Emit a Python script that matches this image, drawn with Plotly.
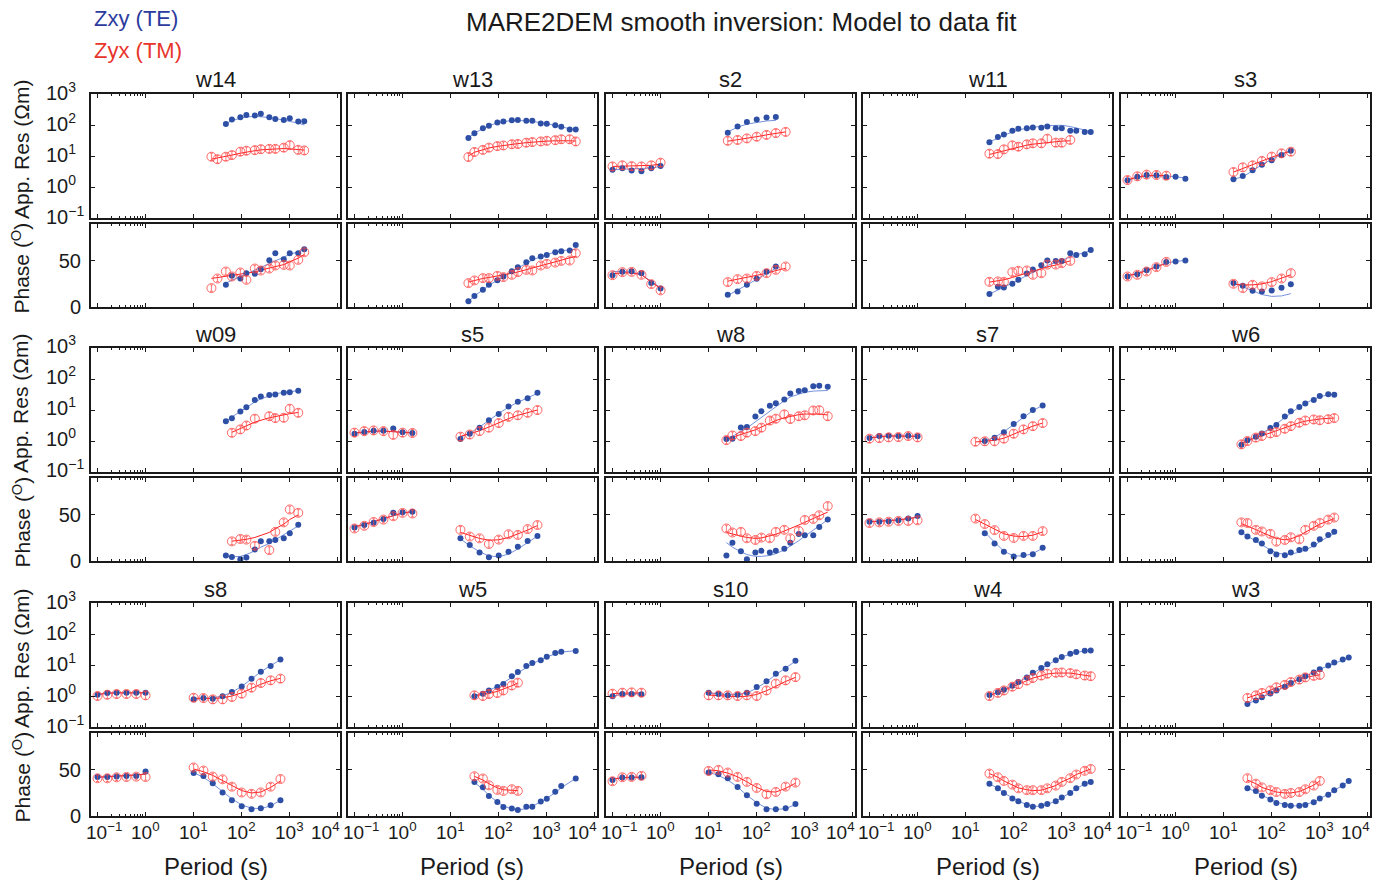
import math
import plotly.graph_objects as go

# ---------------------------------------------------------------- periods (s)
W_T = [24, 32, 48, 64, 96, 128, 192, 256, 384, 512, 768, 1024, 1536, 2048, 3072, 4096]
S_SHORT = [0.1024, 0.16384, 0.256, 0.4096, 0.65536, 1.024, 1.6384]
S_LONG = [10.24, 16.384, 25.6, 40.96, 64, 102.4, 163.84, 256, 409.6, 655.36]
GAP = [None]

STATION_ORDER = ["w14", "w13", "s2", "w11", "s3",
                 "w09", "s5", "w8", "s7", "w6",
                 "s8", "w5", "s10", "w4", "w3"]

# ---------------------------------------------------------------- w14
W14_TE_T = W_T[2:14]
W14_TE_RHO = [107, 151, 178, 209, 204, 229, 178, 155, 145, 166, 129, 132]
W14_TE_RHO_M = [112, 138, 166, 182, 191, 186, 174, 162, 145, 132, 115, 100]
W14_TE_PHI = [24.1, 33.8, 30.9, 36.7, 36.0, 41.0, 50.7, 58.3, 51.8, 58.3, 58.3, 62.6]
W14_TE_PHI_M = [26, 29, 33, 36, 40, 43, 47, 50, 54, 57, 60, 62]
W14_TM_T = W_T[0:14]
W14_TM_RHO = [9.5, 7.9, 9.5, 10.7, 13.8, 14.8, 15.5, 16.6, 17.0, 17.0, 18.6, 22.4, 15.8, 15.1]
W14_TM_RHO_M = [7.9, 8.5, 9.5, 10.7, 12.3, 13.5, 14.8, 15.8, 16.6, 17.0, 17.4, 17.0, 16.2, 15.5]
W14_TM_PHI = [20.5, 30.9, 38.5, 33.1, 37.4, 29.5, 41.7, 39.6, 41.7, 45.0, 45.7, 45.0, 51.1, 59.4]
W14_TM_PHI_M = [31, 32, 33, 34, 35, 36, 38, 40, 42, 44, 46, 49, 53, 57]

# ---------------------------------------------------------------- w13
W13_TE_T = W_T[0:16]
W13_TE_RHO = [38, 54, 78, 95, 120, 129, 141, 145, 138, 138, 112, 110, 98, 87, 71, 71]
W13_TE_RHO_M = [38, 55, 76, 95, 117, 129, 138, 141, 138, 132, 120, 110, 98, 87, 76, 69]
W13_TE_PHI = [6.1, 11.9, 18.7, 24.1, 29.1, 33.1, 38.8, 43.2, 48.6, 52.9, 54.7, 56.5, 59.4, 60.4, 61.2, 67.3]
W13_TE_PHI_M = [6, 12, 18.5, 23.5, 29, 33, 38.5, 42.5, 47.5, 51, 54.5, 57, 59.5, 61, 62, 62.5]
W13_TM_T = W_T[0:16]
W13_TM_RHO = [9.3, 13.5, 15.8, 18.6, 20.9, 21.9, 24.0, 24.5, 26.9, 28.2, 29.5, 30.9, 32.4, 34.7, 34.7, 29.5]
W13_TM_RHO_M = [10, 13.2, 15.8, 18.2, 20.4, 21.9, 24.0, 25.1, 26.9, 28.2, 29.5, 30.2, 30.9, 31.6, 30.9, 30.2]
W13_TM_PHI = [25.9, 28.8, 31.3, 31.3, 33.8, 32.4, 34.9, 37.8, 40.3, 39.6, 45.0, 46.8, 48.2, 50.0, 50.4, 58.3]
W13_TM_PHI_M = [27, 29, 31, 32, 33.5, 34.5, 36.5, 38, 40.5, 42.5, 45, 47, 49.5, 51, 53, 55]

# ---------------------------------------------------------------- s2
S2_TE_T = S_SHORT[:6] + GAP + S_LONG[2:8]
S2_TE_RHO = [3.6, 4.0, 3.4, 3.2, 4.0, 4.8, None, 56, 89, 126, 151, 174, 182]
S2_TE_RHO_M = [3.6, 3.7, 3.7, 3.8, 4.1, 4.6, None, 60, 85, 107, 123, 135, 141]
S2_TE_PHI = [34.5, 38.1, 38.8, 36.7, 25.9, 20.1, None, 13.3, 16.9, 24.1, 30.6, 38.1, 43.9]
S2_TE_PHI_M = [38.5, 38.5, 38, 35, 27.5, 21, None, 12.5, 18, 24, 30, 36.5, 42]
S2_TM_T = S_SHORT[:6] + GAP + S_LONG[2:9]
S2_TM_RHO = [4.6, 5.0, 4.7, 4.6, 5.0, 6.1, None, 31, 33, 37, 42, 48, 55, 60]
S2_TM_RHO_M = [4.6, 4.7, 4.7, 4.8, 5.0, 5.5, None, 30, 33, 37, 42, 48, 54, 60]
S2_TM_PHI = [34.5, 37.8, 38.1, 34.9, 24.8, 18.0, None, 27, 30.2, 30.9, 33.8, 36.7, 40.3, 43.9]
S2_TM_PHI_M = [36, 37, 37, 35, 27, 20, None, 28, 30, 32, 34, 36.5, 39.5, 42]

# ---------------------------------------------------------------- w11
W11_TE_T = W_T[1:16]
W11_TE_RHO = [28, 41, 49, 65, 76, 78, 83, 81, 89, 79, 79, 65, 65, 59, 59]
W11_TE_RHO_M = [28, 38, 47, 59, 69, 79, 85, 91, 95, 98, 98, 89, 81, 69, 60]
W11_TE_PHI = [14.0, 21.9, 21.2, 25.2, 29.5, 36.3, 40.6, 45.3, 50.4, 50.0, 50.0, 58.3, 56.5, 57.2, 61.9]
W11_TE_PHI_M = [14, 18, 21.5, 26, 29.5, 34, 37.5, 41.5, 45, 48.5, 51, 54.5, 56.5, 59, 61]
W11_TM_T = W_T[1:13]
W11_TM_RHO = [11.9, 11.6, 16.4, 22.1, 20.0, 23.8, 25.7, 25.7, 36.3, 26.9, 26.9, 33.1]
W11_TM_RHO_M = [11.2, 13.2, 15.1, 17.8, 20.0, 22.4, 24.0, 25.7, 27.5, 28.8, 30.2, 30.9]
W11_TM_PHI = [27.3, 27.7, 27.3, 37.8, 39.2, 39.6, 34.9, 36.7, 46.0, 46.0, 47.5, 50.0]
W11_TM_PHI_M = [27, 28, 29.5, 32, 34, 37, 39, 41.5, 43.5, 45.5, 47.5, 50]

# ---------------------------------------------------------------- s3
S3_TE_T = S_SHORT[:7] + GAP + S_LONG[1:8]
S3_TE_RHO = [1.64, 2.15, 2.44, 2.38, 2.09, 2.15, 1.86, None, 1.77, 2.26, 3.45, 5.25, 7.24, 10.7, 14.8]
S3_TE_RHO_M = [1.66, 2.04, 2.29, 2.34, 2.29, 2.14, 1.95, None, 1.77, 2.14, 3.31, 5.25, 7.76, 11.5, 15.5]
S3_TE_PHI = [33.1, 35.6, 39.9, 43.9, 48.9, 49.3, 50.4, None, 25.9, 23.0, 17.6, 16.9, 18.0, 20.9, 24.8]
S3_TE_PHI_M = [34, 36.5, 40, 44, 47.5, 49.5, 50.5, None, 26, 22, 17, 13.5, 11.5, 12, 14.5]
S3_TM_T = S_SHORT[:5] + GAP + S_LONG[1:8]
S3_TM_RHO = [1.68, 2.21, 2.51, 2.45, 2.32, None, 3.05, 4.31, 5.01, 6.92, 9.55, 12.2, 13.8]
S3_TM_RHO_M = [1.70, 2.09, 2.34, 2.40, 2.34, None, 3.02, 3.98, 5.13, 6.92, 9.12, 11.7, 14.1]
S3_TM_PHI = [33.1, 34.9, 38.5, 43.2, 48.9, None, 25.2, 20.5, 24.1, 22.3, 27.0, 30.9, 36.7]
S3_TM_PHI_M = [34, 36, 39.5, 43.5, 47.5, None, 25, 24, 24, 25, 27.5, 31, 35]

# ---------------------------------------------------------------- w09
W09_TE_T = W_T[2:13]
W09_TE_RHO = [4.3, 5.4, 8.9, 12.3, 20.9, 27.5, 30.2, 31.6, 36.3, 37.6, 41.7]
W09_TE_RHO_M = [4.2, 6.0, 8.9, 12.3, 18.2, 22.9, 28.8, 33.1, 37.2, 39.8, 41.7]
W09_TE_PHI = [5.9, 4.4, 1.8, 3.7, 12.5, 21.3, 21.3, 22.8, 24.6, 30.1, 39.3]
W09_TE_PHI_M = [5, 4.5, 5, 7, 11, 15, 19, 23, 28, 32, 38]
W09_TM_T = W_T[3:7] + W_T[8:13]
W09_TM_RHO = [1.85, 2.37, 3.16, 5.25, 6.31, 5.50, 5.62, 11.0, 8.13]
W09_TM_RHO_M = [1.91, 2.51, 3.16, 4.07, 5.62, 6.17, 6.92, 7.59, 8.32]
W09_TM_PHI = [21.3, 23.9, 23.2, 16.5, 11.8, 31.6, 41.9, 55.9, 52.2]
W09_TM_PHI_M = [21.5, 22.5, 23.5, 25.5, 31, 35, 40, 45, 50]

# ---------------------------------------------------------------- s5
S5_TE_T = S_SHORT[:7] + GAP + S_LONG[1:10]
S5_TE_RHO = [1.72, 1.95, 2.14, 2.14, 2.51, 1.91, 1.82, None, 1.17, 1.72, 2.69, 4.68, 7.41, 12.9, 18.6, 24.0, 36.3]
S5_TE_RHO_M = [1.78, 1.95, 2.04, 2.09, 2.04, 1.95, 1.86, None, 1.32, 1.78, 2.82, 4.68, 7.76, 12.3, 17.8, 24.5, 34.7]
S5_TE_PHI = [36.4, 39.0, 41.5, 45.6, 52.2, 52.9, 53.3, None, 24.6, 17.3, 9.2, 4.0, 5.9, 9.9, 15.4, 21.7, 27.2]
S5_TE_PHI_M = [37, 39.5, 42.5, 46, 49.5, 52, 53.5, None, 24, 16.5, 10, 5.5, 4.5, 7.5, 13, 20, 27]
S5_TM_T = S_SHORT[:7] + GAP + S_LONG[1:10]
S5_TM_RHO = [1.86, 2.09, 2.19, 2.09, 1.58, 1.86, 1.82, None, 1.38, 1.62, 2.09, 2.69, 3.80, 6.03, 6.76, 8.13, 10.0]
S5_TM_RHO_M = [1.82, 2.0, 2.09, 2.09, 2.0, 1.91, 1.82, None, 1.41, 1.70, 2.14, 2.82, 3.89, 5.25, 6.76, 8.32, 10.0]
S5_TM_PHI = [35.3, 38.2, 42.3, 44.9, 48.5, 52.2, 51.5, None, 33.8, 26.5, 24.6, 18.4, 23.2, 29.0, 28.3, 34.6, 39.0]
S5_TM_PHI_M = [37, 39.5, 42.5, 46, 49.5, 52, 53.5, None, 31, 27.5, 24.5, 22.5, 23, 25.5, 29, 33.5, 38.5]

# ---------------------------------------------------------------- w8
W8_TE_T = W_T[0:15]
W8_TE_RHO = [1.16, 1.19, 2.75, 2.82, 6.17, 9.12, 13.6, 16.6, 21.9, 33.9, 40.7, 43.7, 58.9, 60.3, 56.2]
W8_TE_RHO_M = [1.12, 1.41, 2.0, 2.63, 4.17, 6.03, 9.55, 13.2, 20.0, 26.3, 33.1, 37.2, 40.7, 41.7, 42.7]
W8_TE_PHI = [5.9, 19.9, 10.7, 1.8, 9.2, 11.0, 9.2, 11.0, 13.2, 19.9, 29.4, 27.9, 27.9, 36.8, 44.9]
W8_TE_PHI_M = [20, 15, 10, 7, 5, 5, 6, 8, 12, 16, 22, 27, 33, 38, 45]
W8_TM_T = W_T[0:15]
W8_TM_RHO = [1.07, 1.51, 1.45, 1.86, 2.09, 2.69, 4.57, 5.25, 7.24, 5.13, 6.31, 6.76, 9.66, 9.89, 6.31]
W8_TM_RHO_M = [1.15, 1.32, 1.55, 1.82, 2.29, 2.82, 3.80, 4.57, 5.62, 6.31, 7.08, 7.41, 7.59, 7.41, 6.92]
W8_TM_PHI = [35.3, 30.9, 31.6, 24.6, 22.8, 25.4, 24.6, 31.6, 33.8, 24.6, 32.7, 44.5, 45.6, 49.6, 59.6]
W8_TM_PHI_M = [31, 29, 27, 25.5, 24.5, 25, 27, 29, 32.5, 35, 39, 42, 46, 49, 53]

# ---------------------------------------------------------------- s7
S7_TE_T = S_SHORT[:6] + GAP + S_LONG[2:9]
S7_TE_RHO = [1.24, 1.45, 1.48, 1.45, 1.48, 1.41, None, 1.0, 1.28, 1.91, 3.51, 6.31, 9.91, 14.0]
S7_TE_RHO_M = [1.26, 1.38, 1.45, 1.45, 1.45, 1.41, None, 1.0, 1.32, 2.0, 3.47, 6.03, 9.55, 14.1]
S7_TE_PHI = [42.6, 42.6, 43.0, 44.1, 46.0, 48.9, None, 30.1, 19.1, 9.9, 4.8, 6.6, 7.4, 14.3]
S7_TE_PHI_M = [42.5, 43, 43.5, 44.5, 46, 47.5, None, 31, 20, 10.5, 5.5, 5.5, 8, 14]
S7_TM_T = S_SHORT[:6] + GAP + S_LONG[1:9]
S7_TM_RHO = [1.19, 1.24, 1.31, 1.34, 1.45, 1.31, None, 0.95, 0.98, 0.98, 1.19, 1.72, 2.37, 3.02, 3.80]
S7_TM_RHO_M = [1.26, 1.38, 1.45, 1.45, 1.45, 1.41, None, 0.93, 0.98, 1.05, 1.23, 1.66, 2.29, 3.02, 3.80]
S7_TM_PHI = [41.2, 41.9, 42.6, 43.4, 43.4, 44.1, None, 46.0, 40.1, 33.5, 27.2, 25.0, 27.2, 27.2, 32.4]
S7_TM_PHI_M = [42.5, 43, 43.5, 44.5, 46, 47.5, None, 45, 40, 34.5, 29.5, 27, 26.5, 28, 31.5]

# ---------------------------------------------------------------- w6
W6_TE_T = W_T[0:14]
W6_TE_RHO = [0.76, 1.05, 1.38, 1.76, 2.63, 3.31, 6.17, 9.12, 12.6, 16.2, 20.9, 28.2, 32.4, 30.9]
W6_TE_RHO_M = [0.79, 1.05, 1.38, 1.78, 2.57, 3.55, 5.75, 8.32, 12.6, 16.6, 22.4, 26.9, 30.9, 32.4]
W6_TE_PHI = [31.3, 26.5, 22.8, 19.1, 10.7, 7.0, 6.25, 9.2, 11.8, 13.2, 18.0, 23.5, 28.3, 31.6]
W6_TE_PHI_M = [31, 27, 21, 17, 12, 9, 7, 7.5, 9.5, 12, 16.5, 21, 26, 30]
W6_TM_T = W_T[0:14]
W6_TM_RHO = [0.78, 1.0, 1.29, 1.45, 1.76, 1.95, 2.48, 3.02, 3.89, 4.57, 4.95, 4.68, 5.07, 5.50]
W6_TM_RHO_M = [0.81, 1.02, 1.26, 1.48, 1.82, 2.14, 2.69, 3.16, 3.89, 4.37, 4.90, 5.13, 5.37, 5.50]
W6_TM_PHI = [41.9, 41.2, 33.8, 32.0, 29.4, 21.0, 22.8, 25.7, 23.5, 33.8, 38.2, 41.2, 44.9, 47.1]
W6_TM_PHI_M = [40.5, 38, 34, 31, 27, 24.5, 23, 24, 27.5, 31, 36, 40, 43.5, 46]

# ---------------------------------------------------------------- s8
S8_TE_T = S_SHORT[:6] + GAP + S_LONG
S8_TE_RHO = [1.10, 1.25, 1.28, 1.28, 1.28, 1.28, None, 0.78, 0.86, 0.82, 0.98, 1.35, 2.04, 3.63, 6.10, 9.33, 15.1]
S8_TE_RHO_M = [1.12, 1.23, 1.26, 1.27, 1.27, 1.27, None, 0.79, 0.83, 0.87, 1.0, 1.32, 2.04, 3.55, 6.03, 9.55, 14.8]
S8_TE_PHI = [42.3, 42.3, 42.7, 43.4, 43.4, 48.2, None, 46.7, 43.4, 35.4, 25.5, 17.2, 10.6, 7.3, 8.4, 11.7, 17.2]
S8_TE_PHI_M = [42, 42.5, 43, 43.5, 44.5, 45.5, None, 47, 42, 35, 26.5, 18.5, 12, 8.5, 8, 11, 17]
S8_TM_T = S_SHORT[:6] + GAP + S_LONG
S8_TM_RHO = [1.0, 1.10, 1.16, 1.16, 1.16, 1.05, None, 0.88, 0.86, 0.78, 0.78, 0.93, 1.19, 1.86, 2.63, 3.20, 3.63]
S8_TM_RHO_M = [1.12, 1.23, 1.26, 1.27, 1.27, 1.27, None, 0.85, 0.83, 0.83, 0.87, 1.0, 1.26, 1.74, 2.40, 3.09, 3.72]
S8_TM_PHI = [40.9, 40.9, 42.0, 42.3, 42.7, 42.3, None, 52.6, 49.3, 42.7, 39.8, 31.8, 25.5, 24.1, 25.5, 31.8, 40.1]
S8_TM_PHI_M = [42, 42.5, 43, 43.5, 44.5, 45.5, None, 51, 48, 44, 38.5, 32.5, 27.5, 25, 26, 31, 38]

# ---------------------------------------------------------------- w5
W5_TE_T = W_T[1:14] + W_T[15:16]
W5_TE_RHO = [0.98, 1.19, 1.51, 1.95, 2.45, 4.32, 5.96, 9.33, 11.5, 14.1, 18.6, 24.5, 26.9, 28.2]
W5_TE_RHO_M = [1.0, 1.23, 1.51, 2.04, 2.63, 3.98, 5.50, 8.32, 11.0, 14.8, 18.2, 22.9, 26.3, 28.8]
W5_TE_PHI = [37.0, 31.2, 21.7, 15.2, 9.8, 8.0, 6.5, 10.1, 10.1, 15.6, 18.8, 26.4, 32.6, 40.6]
W5_TE_PHI_M = [36.5, 29, 22.5, 15, 11, 7.5, 6.5, 8, 10.5, 15, 19, 25.5, 30.5, 41]
W5_TM_T = W_T[1:8]
W5_TM_RHO = [1.05, 1.0, 1.16, 1.25, 1.51, 2.19, 2.69]
W5_TM_RHO_M = [1.02, 1.10, 1.20, 1.41, 1.66, 2.14, 2.63]
W5_TM_PHI = [43.1, 40.6, 33.3, 28.3, 27.2, 29.0, 27.2]
W5_TM_PHI_M = [43, 39, 35, 30.5, 28.5, 27.5, 27.5]

# ---------------------------------------------------------------- s10
S10_TE_T = S_SHORT[:4] + GAP + S_LONG
S10_TE_RHO = [0.98, 1.16, 1.16, 1.13, None, 1.28, 1.16, 1.05, 1.10, 1.28, 1.95, 2.97, 5.25, 7.59, 13.8]
S10_TE_RHO_M = [1.0, 1.12, 1.17, 1.17, None, 1.26, 1.17, 1.10, 1.10, 1.26, 1.78, 2.88, 4.90, 7.94, 13.2]
S10_TE_PHI = [39.1, 41.7, 41.7, 42.0, None, 47.1, 45.3, 40.9, 31.5, 22.5, 13.4, 7.2, 7.2, 8.3, 13.0]
S10_TE_PHI_M = [40, 41.5, 42, 42, None, 47.5, 44, 39, 31.5, 22.5, 14.5, 8.5, 7, 8, 12.5]
S10_TM_T = S_SHORT[:4] + GAP + S_LONG
S10_TM_RHO = [1.19, 1.28, 1.31, 1.28, None, 1.05, 1.05, 1.05, 1.0, 1.05, 1.0, 1.51, 2.51, 3.20, 4.07]
S10_TM_RHO_M = [1.2, 1.26, 1.26, 1.26, None, 1.07, 1.02, 0.98, 0.95, 0.98, 1.12, 1.48, 2.09, 2.95, 3.98]
S10_TM_PHI = [37.7, 42.0, 42.4, 43.5, None, 48.9, 50.0, 47.1, 42.4, 37.0, 30.4, 23.6, 26.1, 31.9, 36.2]
S10_TM_PHI_M = [40, 41.5, 42, 42, None, 50, 49, 46.5, 42.5, 37, 31, 26.5, 26, 30, 35.5]

# ---------------------------------------------------------------- w4
W4_TE_T = W_T[1:16]
W4_TE_RHO = [1.07, 1.32, 1.58, 2.14, 2.82, 3.98, 5.62, 7.94, 10.5, 14.1, 18.2, 22.9, 26.3, 28.8, 29.5]
W4_TE_RHO_M = [1.05, 1.30, 1.62, 2.14, 2.82, 3.98, 5.50, 7.76, 10.5, 14.1, 18.2, 22.4, 25.7, 28.2, 29.5]
W4_TE_PHI = [35, 30, 25, 19, 16, 12, 10, 11, 13, 16, 20, 25, 30, 35, 37]
W4_TE_PHI_M = [35, 30, 25, 20, 16, 12.5, 10.5, 10.5, 12.5, 16, 20, 25, 30, 34.5, 37.5]
W4_TM_T = W_T[1:16]
W4_TM_RHO = [1.0, 1.26, 1.51, 2.0, 2.40, 3.16, 3.80, 4.57, 5.25, 5.62, 5.75, 5.50, 5.01, 4.57, 4.37]
W4_TM_RHO_M = [1.02, 1.26, 1.55, 1.95, 2.40, 3.09, 3.80, 4.47, 5.13, 5.50, 5.62, 5.50, 5.13, 4.68, 4.37]
W4_TM_PHI = [46, 42, 38, 34, 30, 28, 28, 28, 30, 33, 37, 41, 45, 49, 51]
W4_TM_PHI_M = [46, 42, 38, 34, 30.5, 28.5, 27.5, 28, 30, 33, 37, 41, 45, 48.5, 51]

# ---------------------------------------------------------------- w3
W3_TE_T = W_T[1:16]
W3_TE_RHO = [0.55, 0.72, 0.91, 1.20, 1.51, 2.0, 2.63, 3.47, 4.37, 5.75, 7.24, 9.55, 12.0, 15.1, 17.4]
W3_TE_RHO_M = [0.56, 0.72, 0.93, 1.18, 1.51, 1.99, 2.60, 3.39, 4.37, 5.62, 7.24, 9.33, 11.7, 14.5, 17.0]
W3_TE_PHI = [30, 27, 22, 18, 14, 12, 11, 11, 12, 15, 19, 23, 28, 33, 38]
W3_TE_PHI_M = [30, 26.5, 22.5, 18.5, 15, 12.5, 11, 11, 12.5, 15, 19, 23.5, 28, 33, 38]
W3_TM_T = W_T[1:12]
W3_TM_RHO = [0.87, 1.05, 1.26, 1.51, 1.91, 2.29, 2.82, 3.39, 3.98, 4.47, 4.79]
W3_TM_RHO_M = [0.87, 1.05, 1.26, 1.53, 1.88, 2.29, 2.82, 3.39, 3.98, 4.47, 4.84]
W3_TM_PHI = [41, 35, 31, 28, 26, 24, 25, 26, 29, 33, 38]
W3_TM_PHI_M = [39, 35, 31, 28, 26, 25, 25, 26.5, 29.5, 33.5, 38]

# ---------------------------------------------------------------- styling
W, H = 1394, 883
FONT = "Liberation Sans, Arial, Helvetica, sans-serif"
INK = "#1a1a1a"
TE_DOT = "#2e4fa6"
TE_LINE = "#7592dc"
TM_RING = "#ff4444"
TM_LINE = "#ff1f1f"

COL_LEFT = [91, 348, 606, 863, 1121]
PANEL_W = 249
ROW_TOP = [94, 348, 603]
RES_H, GAP_H, PHASE_H = 124, 6, 83

X_TICKS = [0.1, 1, 10, 100, 1000, 10000]
X_TICKTEXT = ["10<sup>\u22121</sup>", "10<sup>0</sup>", "10<sup>1</sup>",
              "10<sup>2</sup>", "10<sup>3</sup>", "10<sup>4</sup>"]
# end labels are nudged inward so they stay within their own panel's width
X_LABEL_SHIFT = [7, 0, 0, 0, 0, -12]
X_MINOR = [0.2, 0.3, 0.4, 0.5, 0.6, 0.7, 0.8, 0.9]
RES_TICKS = [0.1, 1, 10, 100, 1000]
RES_TICKTEXT = ["10<sup>\u22121</sup>", "10<sup>0</sup>", "10<sup>1</sup>",
                "10<sup>2</sup>", "10<sup>3</sup>"]
PHASE_TICKS = [0, 50]


def g(code, key):
    return globals()[f"{code.upper()}_{key}"]


def ax_name(letter, k):
    return letter if k == 1 else f"{letter}{k}"


def px_x(x):
    return x / W


def px_y(y):
    return 1 - y / H


def base_axis(size=20):
    return dict(showline=True, mirror="allticks", linewidth=2, linecolor=INK,
                ticks="inside", ticklen=4, tickwidth=1, tickcolor=INK,
                showgrid=False, zeroline=False, automargin=False,
                tickfont=dict(family=FONT, size=size, color=INK))


def text(txt, x, y, size, color=INK, xanchor="center", **kw):
    return dict(text=txt, x=px_x(x), y=px_y(y), xref="paper", yref="paper",
                xanchor=xanchor, yanchor="middle", showarrow=False,
                font=dict(family=FONT, size=size, color=color), **kw)


fig = go.Figure()
layout = dict(width=W, height=H, autosize=False,
              margin=dict(l=0, r=0, t=0, b=0, pad=0, autoexpand=False),
              paper_bgcolor="white", plot_bgcolor="white", showlegend=False,
              font=dict(family=FONT, color=INK))
annotations = []


def add(k, x, y, **kw):
    fig.add_trace(go.Scatter(x=x, y=y, xaxis=ax_name("x", k), yaxis=ax_name("y", k),
                             hoverinfo="skip", showlegend=False, **kw))


for i, code in enumerate(STATION_ORDER):
    r, c = divmod(i, 5)
    k_res, k_ph = 2 * i + 1, 2 * i + 2
    x0 = COL_LEFT[c]
    xdom = [px_x(x0), px_x(x0 + PANEL_W)]
    top = ROW_TOP[r]
    ph_top = top + RES_H + GAP_H
    res_dom = [px_y(top + RES_H), px_y(top)]
    ph_dom = [px_y(ph_top + PHASE_H), px_y(ph_top)]

    for k in (k_res, k_ph):
        xa = base_axis(18)
        xa.update(type="log", range=[-1.125, 4.055], domain=xdom,
                  anchor=ax_name("y", k), tickvals=X_TICKS, showticklabels=False,
                  minor=dict(tickvals=X_MINOR, ticks="inside", ticklen=2,
                             tickwidth=1, tickcolor=INK, showgrid=False))
        layout["xaxis" + ("" if k == 1 else str(k))] = xa

    ya = base_axis()
    ya.update(type="log", range=[-1, 3], domain=res_dom, anchor=ax_name("x", k_res),
              tickvals=RES_TICKS, showticklabels=False)
    layout["yaxis" + ("" if k_res == 1 else str(k_res))] = ya

    yp = base_axis()
    yp.update(range=[0, 90], domain=ph_dom, anchor=ax_name("x", k_ph),
              tickvals=PHASE_TICKS, showticklabels=(c == 0), ticklabelstandoff=4)
    layout["yaxis" + str(k_ph)] = yp

    te_t, tm_t = g(code, "TE_T"), g(code, "TM_T")
    tm_rho, tm_phi = g(code, "TM_RHO"), g(code, "TM_PHI")

    # model responses
    add(k_res, te_t, g(code, "TE_RHO_M"), mode="lines", line=dict(color=TE_LINE, width=1))
    add(k_res, tm_t, g(code, "TM_RHO_M"), mode="lines", line=dict(color=TM_LINE, width=1))
    add(k_ph, te_t, g(code, "TE_PHI_M"), mode="lines", line=dict(color=TE_LINE, width=1))
    add(k_ph, tm_t, g(code, "TM_PHI_M"), mode="lines", line=dict(color=TM_LINE, width=1))

    # observed data
    te_marker = dict(size=6, color=TE_DOT, line=dict(width=0))
    tm_marker = dict(symbol="circle-open", size=9, color=TM_RING, line=dict(width=0.8))
    add(k_res, te_t, g(code, "TE_RHO"), mode="markers", marker=te_marker)
    add(k_ph, te_t, g(code, "TE_PHI"), mode="markers", marker=te_marker)
    add(k_res, tm_t, tm_rho, mode="markers", marker=tm_marker,
        error_y=dict(type="data", array=[None if v is None else 0.3 * v for v in tm_rho],
                     arrayminus=[None if v is None else 0.25 * v for v in tm_rho],
                     color=TM_RING, thickness=0.7, width=1.5))
    add(k_ph, tm_t, tm_phi, mode="markers", marker=tm_marker,
        error_y=dict(type="constant", value=3.5, color=TM_RING, thickness=0.7, width=1.5))

    # station name
    annotations.append(text(code, x0 + PANEL_W / 2, top - 14, 22))

    if c == 0:
        for v, txt in zip(RES_TICKS, RES_TICKTEXT):
            annotations.append(dict(text=txt, x=px_x(44), xanchor="left", xref="paper",
                                    y=math.log10(v), yref=ax_name("y", k_res), yanchor="middle",
                                    yshift=3, showarrow=False,
                                    font=dict(family=FONT, size=20, color=INK)))
        annotations.append(text("App. Res (\u03a9m)", 21, top + RES_H / 2 - 6, 21, textangle=-90))
        annotations.append(text("Phase (<sup>O</sup>)", 21, ph_top + PHASE_H / 2 + 3, 21,
                                textangle=-90))
    if r == 2:
        for v, txt, dx in zip(X_TICKS, X_TICKTEXT, X_LABEL_SHIFT):
            annotations.append(dict(text=txt, x=math.log10(v), xref=ax_name("x", k_ph),
                                    xanchor="center", xshift=dx,
                                    y=px_y(831), yref="paper", yanchor="middle",
                                    showarrow=False,
                                    font=dict(family=FONT, size=19, color=INK)))
        annotations.append(text("Period (s)", x0 + PANEL_W / 2, 866, 24))

annotations.append(text("MARE2DEM smooth inversion: Model to data fit", 741, 22, 26))
annotations.append(text("Zxy (TE)", 92, 18, 22, color="#2b3c9e", xanchor="left"))
annotations.append(text("Zyx (TM)", 92, 50, 22, color="#e8352b", xanchor="left"))

layout["annotations"] = annotations
fig.update_layout(**layout)
fig.write_html("out.html")
